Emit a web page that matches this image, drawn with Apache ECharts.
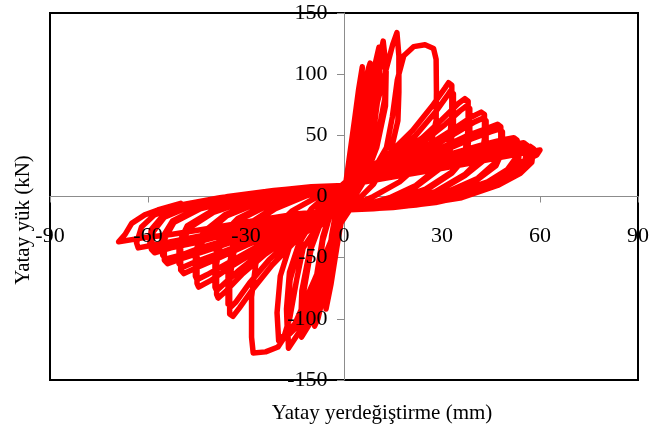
<!DOCTYPE html>
<html>
<head>
<meta charset="utf-8">
<script src="https://cdn.jsdelivr.net/npm/echarts@6/dist/echarts.min.js"></script>
<style>
html,body{margin:0;padding:0;background:#fff;}
#chart{width:652px;height:436px;}
</style>
</head>
<body>
<div id="chart"></div>
<script>
// ---- data (displacement mm, load kN) ----
const xTitle = 'Yatay yerdeğiştirme (mm)';
const yTitle = 'Yatay yük (kN)';
const xRange = [-90, 90, 30];
const yRange = [-150, 150, 50];

const cycle1 = [[0,0],[0.8,12],[1.7,27],[2.5,38],[2.3,25],[1.5,10],[0.5,-2],[-0.5,-12],[-1.5,-25],[-2.5,-35],[-2.3,-22],[-1.5,-8],[-0.5,3]];
const cycle2 = [[0.5,10],[1.8,35],[3.2,62],[4.5,80],[4.2,58],[3,30],[1.5,8],[0,-8],[-1.5,-30],[-3,-55],[-4,-68],[-3.7,-48],[-2.5,-22],[-1,-2],[0.3,8]];
const cycle3 = [[1.5,25],[3,58],[4.5,88],[5.6,106],[5.2,80],[4,45],[2,12],[0,-8],[-2,-38],[-4,-72],[-5.5,-92],[-5.1,-66],[-3.8,-32],[-2,-6],[0,8]];
const cycle4 = [[2,20],[4,52],[6,88],[7.5,105],[8,109],[7.5,82],[6,45],[3.5,12],[0.5,-8],[-2.5,-35],[-5.5,-72],[-8,-100],[-9,-106],[-8.5,-75],[-6.5,-36],[-3.5,-8],[-0.5,8]];
const cycle4b = [[2,18],[4,48],[6,80],[7.5,96],[8.2,100],[7.7,74],[6,40],[3.5,10],[0.5,-8],[-2.5,-33],[-5.5,-66],[-8,-92],[-9.2,-98],[-8.7,-70],[-6.5,-33],[-3.5,-7],[-0.5,8]];
const cycle5 = [[3,22],[6,62],[9,102],[10.7,122],[10.3,92],[8.5,50],[5,14],[1,-8],[-3,-35],[-7,-74],[-10.5,-104],[-13,-115],[-12.6,-82],[-10,-42],[-5.5,-10],[-1,7]];
const cycle5b = [[3,20],[6,56],[9,94],[11,112],[10.6,85],[8.7,46],[5,12],[1,-8],[-3,-33],[-7,-70],[-10.5,-98],[-13.3,-108],[-12.9,-77],[-10.2,-40],[-5.5,-9],[-1,7]];
const cycle6 = [[3,20],[7,62],[10.5,108],[12,127],[12.7,110],[12.5,80],[10,45],[6,15],[1.5,-8],[-4,-38],[-9,-80],[-13.5,-110],[-17,-124],[-17.3,-100],[-16.5,-68],[-13,-35],[-7,-8],[-2,6]];
const cycle6b = [[3,18],[7,58],[10.5,100],[12.3,118],[12.9,102],[12.7,74],[10,40],[6,12],[1.5,-8],[-4,-36],[-9,-76],[-13.5,-104],[-17.3,-114],[-17.6,-92],[-16.7,-62],[-13,-32],[-7,-7],[-2,6]];
const cycle7 = [[3,18],[8,55],[12.5,100],[15,125],[16.2,134],[16.8,115],[16.8,85],[16.5,62],[14,33],[9,10],[3,-6],[-3,-30],[-9,-68],[-15,-104],[-20,-118],[-20.5,-95],[-19.5,-65],[-16,-35],[-10,-10],[-4,4]];
const cycle8 = [[0,6],[5,14],[10,26],[13,40],[14.8,65],[16.3,95],[18.3,115],[21.3,122.5],[24.8,124],[27.4,121],[28.2,112],[28.3,85],[28.2,62],[26.5,42],[23,26],[17,12],[9,0],[3,-7],[0,-10],[-4,-16],[-9,-28],[-12.5,-42],[-14.5,-68],[-16.5,-98],[-18.5,-116],[-20.2,-123],[-24,-127],[-27.8,-128],[-28.3,-115],[-28.3,-82],[-27,-55],[-23,-30],[-16,-12],[-8,0],[-3,6]];
const cycle9 = [[0,10],[6,20],[13,33],[21,54],[27,74],[31,89],[32,93],[33,91],[33,65],[32,40],[29,24],[22,9],[14,-1],[6,-7],[0,-11],[-7,-20],[-14,-34],[-22,-56],[-28,-76],[-32,-91],[-34,-98],[-35,-96],[-35,-68],[-33.5,-42],[-29,-24],[-21,-10],[-12,0],[-5,6]];
const cycle9b = [[0,9],[7,19],[14,31],[22,50],[28,69],[31.5,82],[32.5,86],[33.5,84],[33.5,60],[32.5,38],[29,22],[22,8],[14,-2],[6,-8],[0,-11],[-7,-19],[-15,-32],[-23,-52],[-29,-71],[-33,-86],[-34.5,-90],[-35.5,-88],[-35.5,-62],[-34,-40],[-29.5,-23],[-21.5,-9],[-12.5,1],[-5,6]];
const cycle10 = [[0,9],[8,20],[16,33],[24,48],[30,63],[35,76],[37,80],[38,78],[38,55],[37,35],[33,20],[25,6],[15,-3],[6,-8],[0,-11],[-8,-20],[-16,-32],[-24,-47],[-31,-63],[-36,-77],[-38.5,-83],[-39,-80],[-39,-55],[-37.5,-35],[-32,-19],[-23,-7],[-13,2],[-5,7]];
const cycle10b = [[0,9],[8,19],[17,32],[25,46],[31,59],[35.5,70],[37.5,74],[38.5,72],[38.5,52],[37.5,33],[33,19],[25,5],[15,-4],[6,-9],[0,-11],[-8,-19],[-17,-31],[-25,-45],[-32,-60],[-37,-72],[-39,-77],[-39.5,-74],[-39.5,-51],[-38,-33],[-32.5,-18],[-23.5,-6],[-13.5,2],[-5,7]];
const cycle11 = [[0,9],[9,19],[18,31],[27,44],[34,56],[39,65],[42,69],[43,67],[43,47],[42,31],[37,18],[28,4],[17,-5],[7,-9],[0,-11],[-9,-19],[-18,-31],[-27,-45],[-35,-58],[-41,-69],[-44.5,-74],[-45,-71],[-45,-48],[-42.5,-31],[-36,-16],[-26,-5],[-15,3],[-6,7]];
const cycle11b = [[0,9],[9,18],[19,30],[28,42],[35,53],[40,61],[42.5,64],[43.5,62],[43.5,44],[42.5,29],[37,17],[28,3],[17,-5],[7,-9],[0,-11],[-9,-18],[-19,-30],[-28,-43],[-36,-55],[-42,-64],[-45,-68],[-45.5,-65],[-45.5,-45],[-43,-29],[-36.5,-15],[-26.5,-4],[-15.5,3],[-6,7]];
const cycle12 = [[0,9],[10,18],[20,29],[30,40],[38,50],[44,56],[47,59],[48,57],[48,40],[46,27],[41,15],[31,3],[19,-5],[8,-9],[0,-11],[-10,-18],[-20,-29],[-30,-40],[-39,-51],[-45,-58],[-49,-63],[-50,-60],[-50,-41],[-47.5,-26],[-40,-13],[-29,-3],[-17,4],[-7,8]];
const cycle12b = [[0,9],[10,17],[21,28],[31,38],[39,47],[45,53],[47.5,55],[48.5,53],[48.5,37],[46.5,25],[41,14],[31,2],[19,-6],[8,-9],[0,-11],[-10,-17],[-21,-28],[-31,-39],[-40,-48],[-46,-54],[-49.5,-58],[-50.5,-55],[-50.5,-38],[-48,-24],[-40.5,-12],[-29.5,-2],[-17.5,4],[-7,8]];
const cycle13 = [[0,9],[11,17],[22,26],[33,35],[42,42],[48,46],[52,48],[53,46],[53,33],[50,22],[44,12],[33,2],[20,-6],[8,-9],[0,-11],[-11,-17],[-22,-26],[-33,-36],[-43,-45],[-50,-51],[-54,-55],[-55,-52],[-55,-35],[-52,-21],[-44,-10],[-32,-2],[-19,4],[-8,8]];
const cycle13b = [[0,9],[11,16],[23,25],[34,33],[43,40],[49,43],[52.5,45],[53.5,43],[53.5,31],[50.5,21],[44,11],[33,1],[20,-6],[8,-9],[0,-11],[-11,-16],[-23,-25],[-34,-34],[-44,-42],[-50,-48],[-54.5,-51],[-55.5,-48],[-55.5,-33],[-52.5,-20],[-44.5,-9],[-32.5,-1],[-19.5,5],[-8,8]];
const cycle14 = [[0,9],[12,16],[24,24],[35,32],[45,38],[51,42],[55,44],[56,42],[55.5,30],[52,20],[45,10],[34,0],[21,-6],[9,-9],[0,-11],[-12,-16],[-24,-24],[-36,-31],[-46,-38],[-53,-42],[-58,-46],[-59,-43],[-58.5,-29],[-55,-17],[-47,-8],[-35,-1],[-21,4],[-9,8]];
const cycle14b = [[0,9],[12,15],[24,23],[36,30],[46,36],[52,39],[55.5,41],[56.5,39],[56,28],[52.5,19],[45,9],[34,0],[21,-6],[9,-9],[0,-11],[-12,-15],[-24,-23],[-36,-30],[-47,-36],[-54,-40],[-58.5,-43],[-59.5,-40],[-59,-27],[-55.5,-16],[-47.5,-7],[-35.5,0],[-21.5,5],[-9,8]];
const cycle15 = [[0,9],[12,15],[24,22],[36,29],[46,35],[53,39],[57,41],[58,39],[57.5,28],[54,19],[47,9],[36,-1],[22,-7],[9,-10],[0,-11],[-13,-15],[-26,-22],[-38,-29],[-49,-35],[-57,-39],[-63,-42],[-63.5,-38],[-62,-25],[-58,-15],[-50,-7],[-38,-1],[-24,4],[-10,8]];
const cycle16 = [[0,9],[13,15],[26,21],[38,27],[48,32],[55,35.5],[60,38],[59,34],[55,29],[50,21],[44,10],[38,1],[28,-5],[15,-9],[0,-11],[-14,-14],[-28,-20],[-41,-26],[-53,-31],[-62,-34],[-69,-37],[-67,-31],[-65,-22],[-61,-15],[-57,-11],[-50,-5.6]];

const cycles = [cycle1,cycle2,cycle3,cycle4,cycle4b,cycle5,cycle5b,cycle6,cycle6b,cycle7,cycle8,cycle9,cycle9b,cycle10,cycle10b,cycle11,cycle11b,cycle12,cycle12b,cycle13,cycle13b,cycle14,cycle14b,cycle15,cycle16];
const path = [].concat(...cycles);

const FONT = 'Liberation Serif';
const G = {left:50, right:9, top:13, bottom:56};
const W = 652, H = 436;
const chart = echarts.init(document.getElementById('chart'), null, {renderer:'canvas'});

// label axes sit where the zero of the other axis lies
const xZeroOffset = -(H - G.top - G.bottom) * (0 - yRange[0]) / (yRange[1] - yRange[0]);
const yZeroOffset = -(W - G.left - G.right) * (0 - xRange[0]) / (xRange[1] - xRange[0]);

const valueAxis = (r) => ({type:'value', min:r[0], max:r[1], interval:r[2], splitLine:{show:false}});

chart.setOption({
  animation: false,
  backgroundColor: '#fff',
  grid: Object.assign({show:true, borderColor:'#000', borderWidth:2, backgroundColor:'transparent'}, G),
  xAxis: [
    Object.assign(valueAxis(xRange), {
      position:'bottom', z:1,
      axisLine:{show:true, onZero:true, lineStyle:{color:'#8c8c8c', width:1}},
      axisTick:{show:true, inside:false, length:6, lineStyle:{color:'#8c8c8c'}},
      axisLabel:{show:false}
    }),
    Object.assign(valueAxis(xRange), {
      position:'bottom', z:10, offset:xZeroOffset,
      axisLine:{show:false, onZero:false},
      axisTick:{show:false},
      axisLabel:{show:true, margin:29, color:'#000', fontFamily:FONT, fontSize:22, showMinLabel:true, showMaxLabel:true}
    })
  ],
  yAxis: [
    Object.assign(valueAxis(yRange), {
      position:'left', z:1,
      axisLine:{show:true, onZero:true, lineStyle:{color:'#8c8c8c', width:1}},
      axisTick:{show:true, inside:false, length:7, lineStyle:{color:'#8c8c8c'}},
      axisLabel:{show:false}
    }),
    Object.assign(valueAxis(yRange), {
      position:'left', z:10, offset:yZeroOffset,
      axisLine:{show:false, onZero:false},
      axisTick:{show:false},
      axisLabel:{show:true, margin:19, color:'#000', fontFamily:FONT, fontSize:22, showMinLabel:true, showMaxLabel:true}
    })
  ],
  series: [{
    type:'line',
    xAxisIndex:0, yAxisIndex:0,
    data: path,
    showSymbol:false,
    smooth:false,
    z:2,
    lineStyle:{color:'#ff0000', width:5.5, cap:'round', join:'round'}
  }],
  graphic: [
    {type:'text', style:{text:xTitle, x:382, y:413, align:'center', verticalAlign:'middle', font:'21px "Liberation Serif"', fill:'#000'}},
    {type:'text', rotation:Math.PI/2, x:23, y:220, style:{text:yTitle, align:'center', verticalAlign:'middle', font:'21px "Liberation Serif"', fill:'#000'}}
  ]
});
</script>
</body>
</html>
